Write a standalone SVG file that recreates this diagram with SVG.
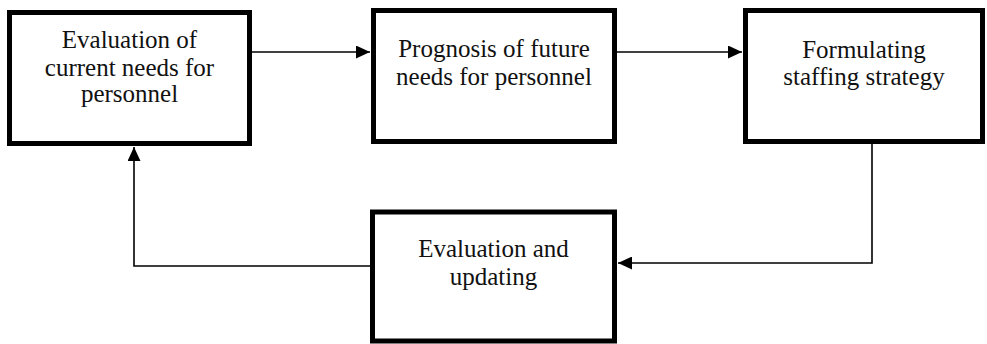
<svg xmlns="http://www.w3.org/2000/svg" width="987" height="344" viewBox="0 0 987 344">
<style>
.box{fill:#fff;stroke:#000;stroke-width:5}
.t{font-family:"Liberation Serif","Times New Roman",serif;font-size:25px;fill:#111;text-anchor:middle}
.c{fill:none;stroke:#000;stroke-width:1.6}
</style>
<defs>
<marker id="ah" markerUnits="userSpaceOnUse" markerWidth="15" markerHeight="13" refX="14" refY="6.5" orient="auto">
<path d="M0,0 L14,6.5 L0,13 Z" fill="#000"/>
</marker>
</defs>
<rect width="987" height="344" fill="#fff"/>
<g id="connectors">
<path class="c" d="M252,52 H370" marker-end="url(#ah)"/>
<path class="c" d="M617,52 H742" marker-end="url(#ah)"/>
<path class="c" d="M872,144 V263 H618" marker-end="url(#ah)"/>
<path class="c" d="M370,266 H134 V147" marker-end="url(#ah)"/>
</g>
<g id="n1">
<rect class="box" x="9.5" y="12.5" width="240" height="131"/>
<text class="t" x="129.5" y="48">Evaluation of</text>
<text class="t" x="129.5" y="76">current needs for</text>
<text class="t" x="129.5" y="102">personnel</text>
</g>
<g id="n2">
<rect class="box" x="373.5" y="10.5" width="241" height="131"/>
<text class="t" x="494" y="57">Prognosis of future</text>
<text class="t" x="494" y="85">needs for personnel</text>
</g>
<g id="n3">
<rect class="box" x="745.5" y="10.5" width="237" height="131"/>
<text class="t" x="864" y="58">Formulating</text>
<text class="t" x="864" y="85">staffing strategy</text>
</g>
<g id="n4">
<rect class="box" x="372.5" y="212" width="242" height="129"/>
<text class="t" x="493.5" y="257">Evaluation and</text>
<text class="t" x="493.5" y="285">updating</text>
</g>
</svg>
